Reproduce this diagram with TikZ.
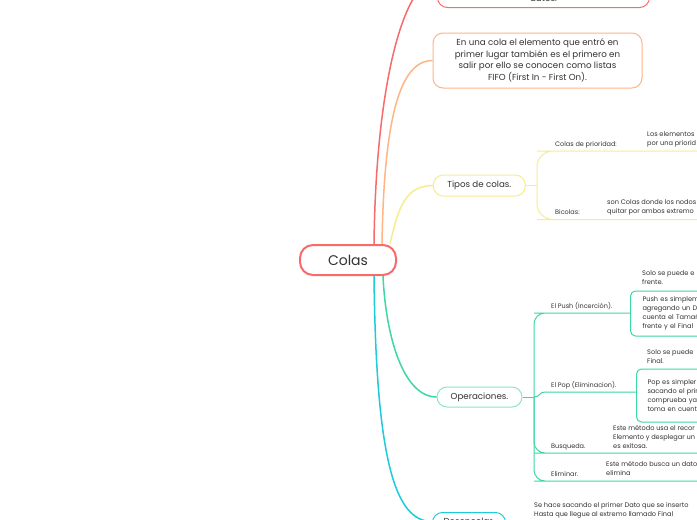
\documentclass[tikz,border=0pt]{standalone}
\usepackage{fontspec}
\setmainfont{Poppins}
\usepackage{xcolor}
\usepackage{tikz}

\definecolor{mapred}{HTML}{F76B6B}
\definecolor{mappeach}{HTML}{FFB585}
\definecolor{mapyellow}{HTML}{F8ED8E}
\definecolor{mapgreen}{HTML}{3ED8A2}
\definecolor{mapmint}{HTML}{8CE5C5}
\definecolor{mapcyan}{HTML}{1FCAD9}
\definecolor{maptext}{HTML}{333333}

\begin{document}
\begin{tikzpicture}[x=1pt, y=-1pt,
  every node/.style={text=maptext},
  rootbox/.style={draw=mapred, line width=2pt, rounded corners=13pt, minimum width=96pt, minimum height=30pt, font=\fontsize{14}{16}\selectfont},
  topicbox/.style={draw=#1, line width=1pt, rounded corners=10pt, align=center, inner sep=0pt, font=\fontsize{8.7}{11.5}\selectfont},
  branch/.style={draw=#1, line width=1.5pt},
  subline/.style={draw=#1, line width=1pt},
  sublabel/.style={anchor=south west, inner ysep=3pt, text depth=1.5pt, font=\fontsize{6.5}{9}\selectfont},
  leaf/.style={anchor=west, align=left, inner sep=0pt, font=\fontsize{6.6}{9}\selectfont},
  leafbox/.style={draw=mapgreen, line width=1pt, rounded corners=5pt, anchor=west, align=left, text width=140pt, inner ysep=0pt, font=\fontsize{6.6}{9}\selectfont}
]
\useasboundingbox (0,0) rectangle (697,520);
\clip (0,0) rectangle (697,520);
\fill[white] (0,0) rectangle (697,520);

% Central topic
\node[rootbox] (colas) at (348,260) {Colas};

% Main topics
\node[topicbox=mapred, minimum width=212pt, minimum height=56pt, anchor=south] (def) at (543.5,8) {};
\node[inner sep=0pt, font=\fontsize{8.7}{11.5}\selectfont] (deftext) at (543.5,-1.5) {datos.};
\node[topicbox=mappeach, minimum width=209pt, minimum height=55pt] (fifo) at (537.5,60.5) {En una cola el elemento que entró en\\primer lugar también es el primero en\\salir por ello se conocen como listas\\FIFO (First In - First On).};
\node[topicbox=mapyellow, minimum width=92pt, minimum height=21pt] (tipos) at (479.3,185.5) {Tipos de colas.};
\node[topicbox=mapmint, minimum width=85pt, minimum height=20pt] (oper) at (479.5,397) {Operaciones.};
\node[topicbox=mapcyan, minimum width=73pt, minimum height=18pt, anchor=north west] (desenc) at (432,512) {Desencolar.};

% Branches from the centre
\draw[branch=mapred] ([xshift=26pt]colas.north) .. controls +(2,-165) and +(-32,0) .. (def.west);
\draw[branch=mappeach] ([xshift=34pt]colas.north) .. controls +(2,-125) and +(-33,0) .. (fifo.west);
\draw[branch=mapyellow] ([xshift=42pt]colas.north) .. controls +(8,-35) and +(-28,0) .. (tipos.west);
\draw[branch=mapgreen] ([xshift=35pt]colas.south) .. controls +(3,64) and +(-32,0) .. (oper.west);
\draw[branch=mapcyan] ([xshift=26pt]colas.south) .. controls +(2,184) and +(-37,0) .. (desenc.west);

% Tipos de colas
\coordinate (tj) at (537,185.5);
\draw[subline=mapyellow] (tipos.east) -- (tj);
\node[sublabel, inner xsep=2pt] (prio) at (553,151) {Colas de prioridad:};
\node[sublabel, inner xsep=2pt] (bico) at (553,219.5) {Bicolas:};
\coordinate (prioend) at (697,151);
\coordinate (bicoend) at (697,219.5);
\draw[subline=mapyellow, rounded corners=16pt] (tj) |- (prio.south west) -- (prioend);
\draw[subline=mapyellow, rounded corners=16pt] (tj) |- (bico.south west) -- (bicoend);
\node[leaf] (prioleaf) at (647,139.5) {Los elementos\\por una priorid};
\node[leaf] (bicoleaf) at (607,207.5) {son Colas donde los nodos\\quitar por ambos extremo};

% Operaciones
\coordinate (oj) at (534,397);
\draw[subline=mapgreen] (oper.east) -- (oj);
\node[sublabel, inner xsep=6pt] (push) at (545,313) {El Push (Incerción).};
\node[sublabel, inner xsep=6pt] (pop) at (545,392) {El Pop (Eliminacion).};
\node[sublabel, inner xsep=6pt] (busq) at (545,453) {Busqueda.};
\node[sublabel, inner xsep=6pt] (elim) at (545,481) {Eliminar.};
\node[leafbox, inner xsep=12pt, minimum height=45pt] (pushbox) at (630,313.5) {Push es simplem\\agregando un D\\cuenta el Tamañ\\frente y el Final};
\node[leafbox, inner xsep=11pt, minimum height=53pt] (popbox) at (636,395.5) {Pop es simpler\\sacando el prin\\comprueba ya\\toma en cuent};
\coordinate (busqend) at (697,453);
\coordinate (elimend) at (697,481);
\draw[subline=mapgreen, rounded corners=11pt] (oj) |- (push.south west) -- (pushbox.west |- push.south west);
\draw[subline=mapgreen] (oj) .. controls +(6,0) and +(-6,0) .. (pop.south west) -- (popbox.west |- pop.south west);
\draw[subline=mapgreen, rounded corners=11pt] (oj) |- (busq.south west) -- (busqend);
\draw[subline=mapgreen, rounded corners=11pt] (oj) |- (elim.south west) -- (elimend);
\node[leaf] (pushtop) at (642,277.5) {Solo se puede e\\frente.};
\node[leaf] (poptop) at (647,356.5) {Solo se puede\\Final.};
\node[leaf] (busqleaf) at (613,436.5) {Este método usa el recor\\Elemento y desplegar un\\es exitosa.};
\node[leaf] (elimleaf) at (606,468.5) {Este método busca un dato\\elimina};

% Desencolar
\node[leaf] (desleaf) at (534,510.5) {Se hace sacando el primer Dato que se inserto\\Hasta que llegue al extremo llamado Final};
\end{tikzpicture}
\end{document}
